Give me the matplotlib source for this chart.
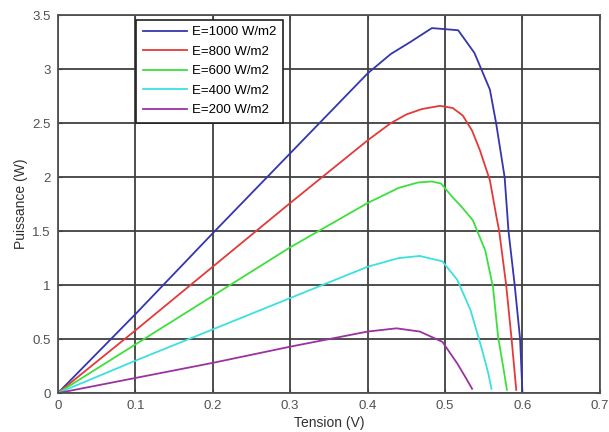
import numpy as np
import matplotlib
matplotlib.use('Agg')
import matplotlib.pyplot as plt

# P-V curves
v_1000 = [0, 0.1, 0.2, 0.3, 0.4, 0.43, 0.455, 0.483, 0.517, 0.538, 0.558, 0.566, 0.577, 0.582, 0.590, 0.597, 0.600]
p_1000 = [0, 0.73, 1.48, 2.22, 2.96, 3.14, 3.25, 3.38, 3.36, 3.15, 2.81, 2.5, 2.0, 1.5, 1.0, 0.5, 0.0]

v_800 = [0, 0.1, 0.2, 0.3, 0.4, 0.43, 0.45, 0.47, 0.4935, 0.51, 0.523, 0.535, 0.545, 0.558, 0.566, 0.570, 0.579, 0.586, 0.592]
p_800 = [0, 0.58, 1.17, 1.76, 2.34, 2.50, 2.58, 2.63, 2.66, 2.64, 2.57, 2.43, 2.25, 1.97, 1.65, 1.5, 1.0, 0.5, 0.03]

v_600 = [0, 0.1, 0.2, 0.3, 0.4, 0.44, 0.465, 0.483, 0.495, 0.509, 0.522, 0.536, 0.552, 0.562, 0.5686, 0.575, 0.58]
p_600 = [0, 0.45, 0.90, 1.35, 1.76, 1.90, 1.95, 1.96, 1.94, 1.82, 1.72, 1.60, 1.32, 0.98, 0.52, 0.25, 0.03]

v_400 = [0, 0.1, 0.2, 0.3, 0.4, 0.44, 0.4675, 0.4966, 0.5158, 0.5329, 0.5479, 0.556, 0.560]
p_400 = [0, 0.30, 0.59, 0.88, 1.17, 1.25, 1.27, 1.22, 1.05, 0.77, 0.40, 0.18, 0.04]

v_200 = [0, 0.1, 0.2, 0.3, 0.4, 0.4374, 0.4675, 0.4966, 0.5158, 0.527, 0.535]
p_200 = [0, 0.14, 0.28, 0.43, 0.57, 0.60, 0.57, 0.475, 0.275, 0.14, 0.04]

labels = ['E=1000 W/m2', 'E=800 W/m2', 'E=600 W/m2', 'E=400 W/m2', 'E=200 W/m2']
colors = ['#3535b0', '#e23a3a', '#3ce03c', '#3ce0e0', '#9a32a0']

xticks = [0, 0.1, 0.2, 0.3, 0.4, 0.5, 0.6, 0.7]
yticks = [0, 0.5, 1, 1.5, 2, 2.5, 3, 3.5]

plt.rcParams['font.family'] = ['Liberation Sans', 'DejaVu Sans']

fig = plt.figure(figsize=(6.09, 4.32), dpi=100)
ax = fig.add_axes([0.095, 0.09, 0.89, 0.875])

series = [(v_1000, p_1000), (v_800, p_800), (v_600, p_600), (v_400, p_400), (v_200, p_200)]
for (v, p), lab, c in zip(series, labels, colors):
    ax.plot(v, p, color=c, lw=1.3, label=lab)

ax.set_xlim(0, 0.7)
ax.set_ylim(0, 3.5)
ax.set_xticks(xticks)
ax.set_yticks(yticks)
ax.set_xticklabels(['0', '0.1', '0.2', '0.3', '0.4', '0.5', '0.6', '0.7'])
ax.set_yticklabels(['0', '0.5', '1', '1.5', '2', '2.5', '3', '3.5'])
ax.grid(True, color='#404040', lw=1.3)
ax.set_axisbelow(True)
ax.tick_params(direction='in', top=True, right=True, length=3, color='#404040',
               labelsize=9.5, labelcolor='#505050', pad=5)
for s in ax.spines.values():
    s.set_color('#505050')
    s.set_linewidth(1.3)

ax.set_xlabel('Tension (V)', fontsize=10, color='#303030', labelpad=3)
ax.set_ylabel('Puissance (W)', fontsize=10, color='#303030', labelpad=3)

leg = ax.legend(loc='upper left', bbox_to_anchor=(0.145, 0.988), fontsize=9.5,
                handlelength=3.3, handletextpad=0.4, labelspacing=0.55,
                borderpad=0.5, borderaxespad=0, fancybox=False, framealpha=1)
leg.get_frame().set_edgecolor('#202020')
leg.get_frame().set_linewidth(1.2)

fig.savefig('out.png', dpi=100)
